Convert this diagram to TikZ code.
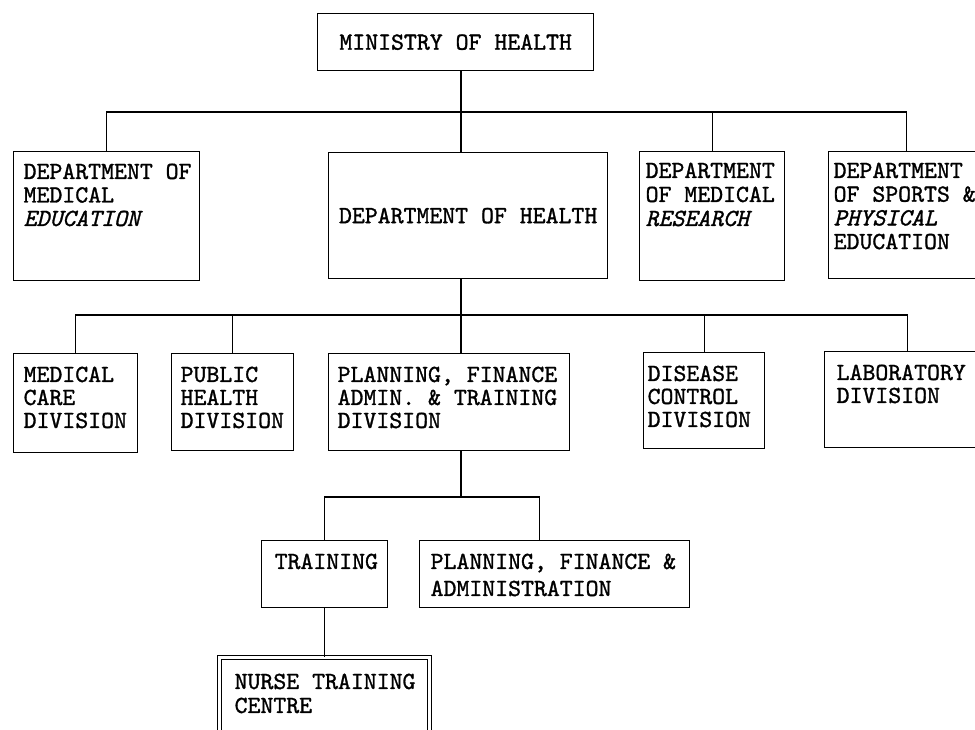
\documentclass[tikz,border=0pt]{standalone}
\usepackage{fontspec}
\usepackage{tikz}
\setmonofont{lmmono10-regular.otf}[FakeBold=1.2, ItalicFont=lmmono10-italic.otf]

\newcommand{\boxtext}[5]{\parbox[c][#2pt][t]{#1pt}{\vspace*{#4pt}\raggedright\leftskip=#3pt\relax #5}}

\tikzset{
  orgpitch/.style={font=\fontsize{24.6}{#1}\selectfont\ttfamily},
  orgbox/.style={draw, line width=1.3pt, anchor=north west, inner sep=0pt, orgpitch=23.5},
  orgline/.style={line width=1.3pt}
}

\begin{document}
\begin{tikzpicture}[x=1pt, y=-1pt]
    \useasboundingbox (0,0) rectangle (975,729);
    \clip (0,0) rectangle (975,729);
    \node[orgbox, minimum width=276pt, minimum height=57pt] (ministry) at (317,13) {MINISTRY OF HEALTH};
    \node[orgbox] (edu) at (13,151) {\boxtext{186}{129}{10}{12}{DEPARTMENT OF\\MEDICAL\\\textit{EDUCATION}}};
    \node[orgbox, minimum width=279pt, minimum height=126pt] (health) at (328,152) {DEPARTMENT OF HEALTH};
    \node[orgbox, orgpitch=24] (research) at (639,151) {\boxtext{145}{129}{6}{11}{DEPARTMENT\\OF MEDICAL\\\textit{RESEARCH}}};
    \node[orgbox, orgpitch=23.7] (sports) at (828,151) {\boxtext{156}{127}{5}{11}{DEPARTMENT\\OF SPORTS \&\\\textit{PHYSICAL}\\EDUCATION}};
    \node[orgbox, orgpitch=23] (care) at (13,353) {\boxtext{124}{99}{10}{13}{MEDICAL\\CARE\\DIVISION}};
    \node[orgbox, orgpitch=23] (public) at (171,353) {\boxtext{122}{97}{9}{13}{PUBLIC\\HEALTH\\DIVISION}};
    \node[orgbox, orgpitch=23] (planning) at (328,353) {\boxtext{241}{97}{9}{13}{PLANNING, FINANCE\\ADMIN. \& TRAINING\\DIVISION}};
    \node[orgbox, orgpitch=23] (disease) at (643,352) {\boxtext{121}{96}{4}{13}{DISEASE\\CONTROL\\DIVISION}};
    \node[orgbox, orgpitch=23] (lab) at (824,351) {\boxtext{166}{96}{12}{13}{LABORATORY\\DIVISION}};
    \node[orgbox] (training) at (261,540) {\boxtext{126}{67}{13}{13}{TRAINING}};
    \node[orgbox, orgpitch=27] (pfa) at (419,540) {\boxtext{270}{67}{11}{13}{PLANNING, FINANCE \&\\ADMINISTRATION}};
    \node[orgbox, double, double distance=3pt, orgpitch=24] (nurse) at (219,657) {\boxtext{210}{90}{15}{16}{NURSE TRAINING\\CENTRE}};
    \coordinate (tbus) at (461,112);
    \coordinate (mbus) at (461,315);
    \coordinate (lbus) at (461,497);
    \draw[orgline] (ministry.south -| tbus) -- (health.north -| tbus);
    \draw[orgline] (edu.north) |- (tbus) -| (sports.north);
    \draw[orgline] (research.north) -- (research.north |- tbus);
    \draw[orgline] (health.south -| mbus) -- (planning.north -| mbus);
    \draw[orgline] (care.north) |- (mbus) -| (lab.north);
    \draw[orgline] (public.north) -- (public.north |- mbus);
    \draw[orgline] (disease.north) -- (disease.north |- mbus);
    \draw[orgline] (planning.south -| lbus) -- (lbus);
    \draw[orgline] (training.north) |- (lbus) -| ([xshift=-15pt]pfa.north);
    \draw[orgline] (training.south) -- (training.south |- nurse.north);
\end{tikzpicture}
\end{document}
